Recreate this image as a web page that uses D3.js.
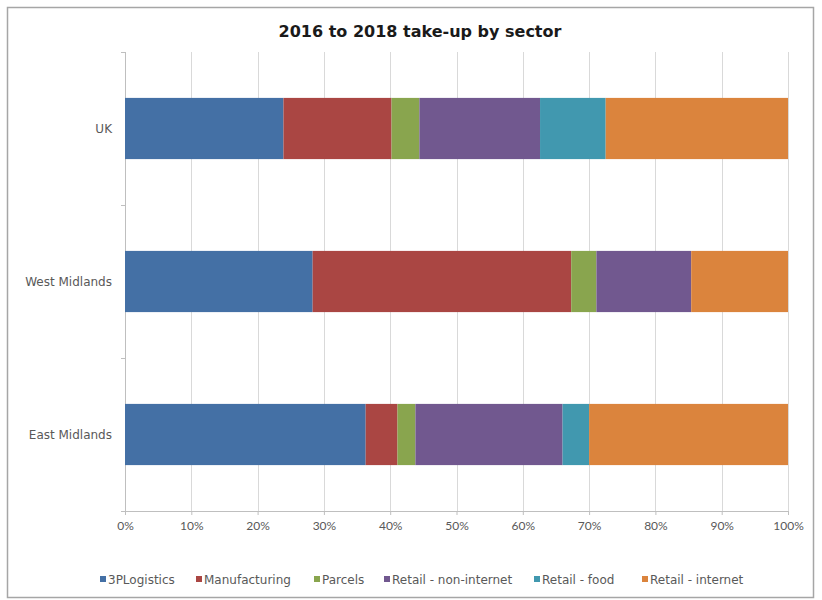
<!DOCTYPE html>
<html>
<head>
<meta charset="utf-8">
<script src="https://cdn.jsdelivr.net/npm/d3@7"></script>
<style>
  html, body { margin: 0; padding: 0; background: #fff; }
  svg { display: block; font-family: "DejaVu Sans", sans-serif; }
</style>
</head>
<body>
<svg id="chart" width="822" height="600"></svg>
<script>
const title = "2016 to 2018 take-up by sector";
const categories = ["UK", "West Midlands", "East Midlands"];
const seriesNames = ["3PLogistics", "Manufacturing", "Parcels", "Retail - non-internet", "Retail - food", "Retail - internet"];
const seriesColors = ["#4470A5", "#AA4643", "#89A54E", "#71588F", "#4198AF", "#DB843D"];
const s3PLogistics   = [23.9, 28.3, 36.3];
const sManufacturing = [16.3, 39.0, 4.8];
const sParcels       = [4.2, 3.8, 2.7];
const sRetailNonInt  = [18.2, 14.3, 22.2];
const sRetailFood    = [9.9, 0.0, 4.0];
const sRetailInt     = [27.5, 14.6, 30.0];
const xTicks = [0, 10, 20, 30, 40, 50, 60, 70, 80, 90, 100];

const seriesValues = [s3PLogistics, sManufacturing, sParcels, sRetailNonInt, sRetailFood, sRetailInt];
const rows = categories.map((c, i) => {
  const r = { cat: c };
  seriesNames.forEach((s, j) => r[s] = seriesValues[j][i]);
  return r;
});

const svg = d3.select("#chart");

// chart border
svg.append("rect").attr("x", 7.5).attr("y", 7.5).attr("width", 806).attr("height", 590)
  .attr("fill", "#fff").attr("stroke", "#a6a6a6").attr("stroke-width", 1.5);

const x = d3.scaleLinear().domain([0, 100]).range([125, 788]);
const y = d3.scaleBand().domain(categories).range([52, 511]).paddingInner(0.6).paddingOuter(0.3);

// gridlines
svg.append("g").selectAll("line").data(xTicks).join("line")
  .attr("x1", d => Math.round(x(d)) + 0.5).attr("x2", d => Math.round(x(d)) + 0.5)
  .attr("y1", 52).attr("y2", 511)
  .attr("stroke", "#d9d9d9").attr("stroke-width", 1);

// bottom axis
const xAxis = d3.axisBottom(x).tickValues(xTicks).tickFormat(d => d + "%").tickSize(4).tickPadding(6);
const gx = svg.append("g").attr("transform", "translate(0,511)").call(xAxis);
gx.select(".domain").attr("stroke", "#bfbfbf");
gx.selectAll(".tick line").attr("stroke", "#bfbfbf");
gx.selectAll(".tick text").attr("fill", "#595959").attr("font-size", 12)
  .attr("font-family", "Lato, 'Open Sans', sans-serif");

// left axis ticks (category boundaries)
const boundaries = [52, 52 + 153, 52 + 306, 511];
svg.append("g").selectAll("line").data(boundaries).join("line")
  .attr("x1", 121).attr("x2", 125).attr("y1", d => d + 0.5).attr("y2", d => d + 0.5)
  .attr("stroke", "#bfbfbf");
svg.append("line").attr("x1", 125.5).attr("x2", 125.5).attr("y1", 52).attr("y2", 511).attr("stroke", "#bfbfbf");

// category labels
svg.append("g").selectAll("text").data(categories).join("text")
  .attr("x", 112).attr("y", d => y(d) + y.bandwidth() / 2)
  .attr("text-anchor", "end").attr("dominant-baseline", "central")
  .attr("fill", "#595959").attr("font-size", 12).text(d => d);

// stacked bars
const stack = d3.stack().keys(seriesNames)(rows);
const color = d3.scaleOrdinal().domain(seriesNames).range(seriesColors);
svg.append("g").selectAll("g").data(stack).join("g")
  .attr("fill", d => color(d.key))
  .selectAll("rect").data(d => d).join("rect")
  .attr("x", d => x(d[0])).attr("width", d => Math.max(0, x(d[1]) - x(d[0])))
  .attr("y", d => y(d.data.cat)).attr("height", y.bandwidth());

// title
svg.append("text").attr("x", 420).attr("y", 37).attr("text-anchor", "middle")
  .attr("font-size", 16).attr("font-weight", "bold").attr("fill", "#1a1a1a").text(title);

// legend
const legendX = [100, 196, 314, 384, 534, 642];
const lg = svg.append("g").selectAll("g").data(seriesNames).join("g")
  .attr("transform", (d, i) => `translate(${legendX[i]},580)`);
lg.append("rect").attr("x", 0).attr("y", -4).attr("width", 6).attr("height", 6).attr("fill", d => color(d));
lg.append("text").attr("x", 8).attr("y", 0).attr("dominant-baseline", "central")
  .attr("font-size", 12).attr("fill", "#595959").text(d => d);
</script>
</body>
</html>
